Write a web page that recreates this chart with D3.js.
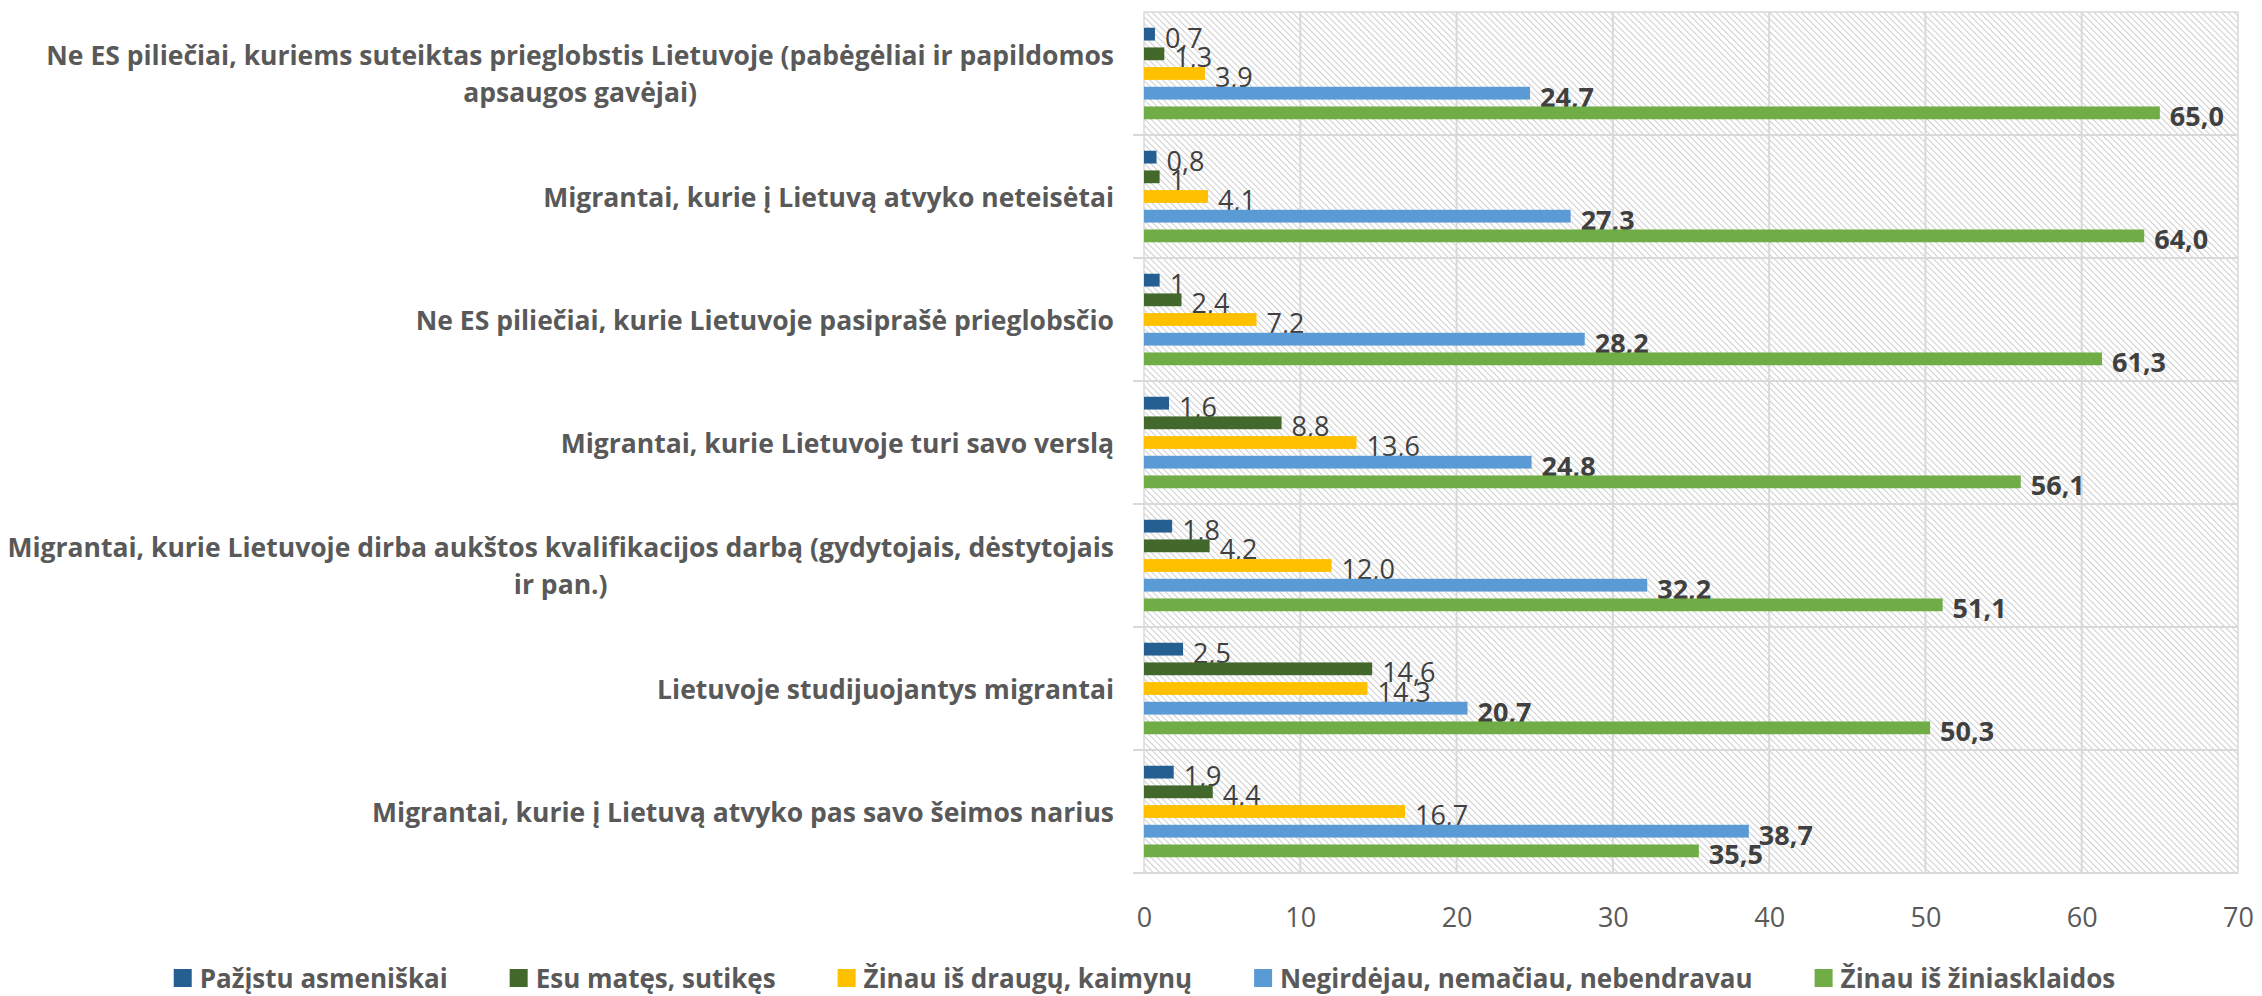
<!DOCTYPE html>
<html>
<head>
<meta charset="utf-8">
<script src="https://cdn.jsdelivr.net/npm/d3@7"></script>
<style>
  body { margin: 0; background: #fff; }
  svg { display: block; font-family: 'Open Sans', Lato, sans-serif; }
</style>
</head>
<body>
<svg id="chart" width="2262" height="996"></svg>
<script>
var categories = [
  'Ne ES piliečiai, kuriems suteiktas prieglobstis Lietuvoje (pabėgėliai ir papildomos apsaugos gavėjai)',
  'Migrantai, kurie į Lietuvą atvyko neteisėtai',
  'Ne ES piliečiai, kurie Lietuvoje pasiprašė prieglobsčio',
  'Migrantai, kurie Lietuvoje turi savo verslą',
  'Migrantai, kurie Lietuvoje dirba aukštos kvalifikacijos darbą (gydytojais, dėstytojais ir pan.)',
  'Lietuvoje studijuojantys migrantai',
  'Migrantai, kurie į Lietuvą atvyko pas savo šeimos narius'
];

var seriesNames = [
  'Pažįstu asmeniškai',
  'Esu matęs, sutikęs',
  'Žinau iš draugų, kaimynų',
  'Negirdėjau, nemačiau, nebendravau',
  'Žinau iš žiniasklaidos'
];

var pazistu = [0.7, 0.8, 1, 1.6, 1.8, 2.5, 1.9];
var matesSutikes = [1.3, 1, 2.4, 8.8, 4.2, 14.6, 4.4];
var isDraugu = [3.9, 4.1, 7.2, 13.6, 12.0, 14.3, 16.7];
var negirdejau = [24.7, 27.3, 28.2, 24.8, 32.2, 20.7, 38.7];
var isZiniasklaidos = [65.0, 64.0, 61.3, 56.1, 51.1, 50.3, 35.5];

var xTicks = [0, 10, 20, 30, 40, 50, 60, 70];

var seriesValues = [pazistu, matesSutikes, isDraugu, negirdejau, isZiniasklaidos];
var colors = ['#255e91', '#43682b', '#ffc000', '#5b9bd5', '#70ad47'];
var boldLabel = [false, false, false, true, true];

var width = 2262, height = 996;
var plot = { left: 1144, right: 2238, top: 12, bottom: 873 };

var svg = d3.select('#chart');
svg.append('rect').attr('width', width).attr('height', height).attr('fill', '#fff');

// hatched plot background
var defs = svg.append('defs');
var pat = defs.append('pattern')
  .attr('id', 'hatch')
  .attr('patternUnits', 'userSpaceOnUse')
  .attr('width', 4.5)
  .attr('height', 4.5)
  .attr('patternTransform', 'rotate(-45)');
pat.append('rect').attr('width', 4.5).attr('height', 4.5).attr('fill', '#fff');
pat.append('line')
  .attr('x1', 0.5).attr('y1', 0).attr('x2', 0.5).attr('y2', 4.5)
  .attr('stroke', '#cdcdcd').attr('stroke-width', 1);

var x = d3.scaleLinear().domain([0, 70]).range([plot.left, plot.right]);
var y = d3.scaleBand().domain(categories).range([plot.top, plot.bottom]);
var ySub = d3.scaleBand()
  .domain(d3.range(seriesNames.length))
  .range([0, y.bandwidth()])
  .paddingInner(0.35)
  .paddingOuter(0.8);

svg.append('rect')
  .attr('x', plot.left).attr('y', plot.top)
  .attr('width', plot.right - plot.left).attr('height', plot.bottom - plot.top)
  .attr('fill', 'url(#hatch)')
  .attr('stroke', '#d9d9d9').attr('stroke-width', 1.5);

// vertical gridlines
svg.append('g').selectAll('line')
  .data(xTicks.slice(1, -1))
  .enter().append('line')
  .attr('x1', d => x(d)).attr('x2', d => x(d))
  .attr('y1', plot.top).attr('y2', plot.bottom)
  .attr('stroke', '#d9d9d9').attr('stroke-width', 2);

// category separators with outside tick marks
var bounds = categories.map(c => y(c)).concat([plot.bottom]);
svg.append('g').selectAll('line')
  .data(bounds.slice(1))
  .enter().append('line')
  .attr('x1', plot.left - 11).attr('x2', plot.right)
  .attr('y1', d => d).attr('y2', d => d)
  .attr('stroke', '#d9d9d9').attr('stroke-width', 2);

// x axis
var xAxis = d3.axisBottom(x).tickValues(xTicks).tickSize(0).tickPadding(35);
var gx = svg.append('g')
  .attr('transform', 'translate(0,' + plot.bottom + ')')
  .call(xAxis);
gx.select('.domain').remove();
gx.selectAll('text')
  .attr('fill', '#595959')
  .style('font-family', "'Open Sans', sans-serif")
  .style('font-size', '27px');

function fmt(v) {
  // source prints whole small numbers without a decimal
  if (Number.isInteger(v) && v < 10) return String(v);
  return v.toFixed(1).replace('.', ',');
}

// bars + labels
seriesValues.forEach(function(vals, si) {
  var g = svg.append('g');
  g.selectAll('rect')
    .data(vals)
    .enter().append('rect')
    .attr('x', x(0))
    .attr('y', (d, i) => y(categories[i]) + ySub(si))
    .attr('width', d => x(d) - x(0))
    .attr('height', ySub.bandwidth())
    .attr('fill', colors[si]);

  g.selectAll('text')
    .data(vals)
    .enter().append('text')
    .attr('x', d => x(d) + 10)
    .attr('y', (d, i) => y(categories[i]) + ySub(si) + ySub.bandwidth() / 2 + 3)
    .attr('dominant-baseline', 'central')
    .attr('fill', '#404040')
    .style('font-size', '27px')
    .style('font-weight', boldLabel[si] ? 'bold' : 'normal')
    .text(fmt);
});

// category labels, wrapped and centred as a block right of the axis
var labelRight = 1114, maxW = 1115, lineH = 37;
var gy = svg.append('g')
  .attr('fill', '#595959')
  .style('font-size', '26.5px')
  .style('font-weight', 'bold');

categories.forEach(function(c) {
  var t = gy.append('text');
  var words = c.split(' ');
  var lines = [], cur = '';
  words.forEach(function(w) {
    var test = cur ? cur + ' ' + w : w;
    t.text(test);
    if (t.node().getComputedTextLength() > maxW && cur) {
      lines.push(cur);
      cur = w;
    } else {
      cur = test;
    }
  });
  lines.push(cur);
  t.text(null);

  var widths = lines.map(function(l) {
    t.text(l);
    return t.node().getComputedTextLength();
  });
  t.text(null);
  var blockW = d3.max(widths);
  var cy = y(c) + y.bandwidth() / 2;
  var y0 = cy - (lines.length - 1) * lineH / 2;
  var single = lines.length === 1;

  t.attr('text-anchor', single ? 'end' : 'middle')
    .attr('dominant-baseline', 'central');
  lines.forEach(function(l, i) {
    t.append('tspan')
      .attr('x', single ? labelRight : labelRight - blockW / 2)
      .attr('y', y0 + i * lineH)
      .text(l);
  });
});

// legend
var legend = svg.append('g')
  .style('font-size', '26px')
  .style('font-weight', 'bold');
var legY = 978, box = 18, gapText = 8, gapItem = 62;
var items = seriesNames.map(function(name, i) {
  var g = legend.append('g');
  g.append('rect')
    .attr('y', legY - box / 2)
    .attr('width', box).attr('height', box)
    .attr('fill', colors[i]);
  var t = g.append('text')
    .attr('x', box + gapText)
    .attr('y', legY)
    .attr('dominant-baseline', 'central')
    .attr('fill', '#595959')
    .text(name);
  return { g: g, w: box + gapText + t.node().getComputedTextLength() };
});
var total = d3.sum(items, d => d.w) + gapItem * (items.length - 1);
var lx = 1144.5 - total / 2;
items.forEach(function(it) {
  it.g.attr('transform', 'translate(' + lx + ',0)');
  lx += it.w + gapItem;
});
</script>
</body>
</html>
